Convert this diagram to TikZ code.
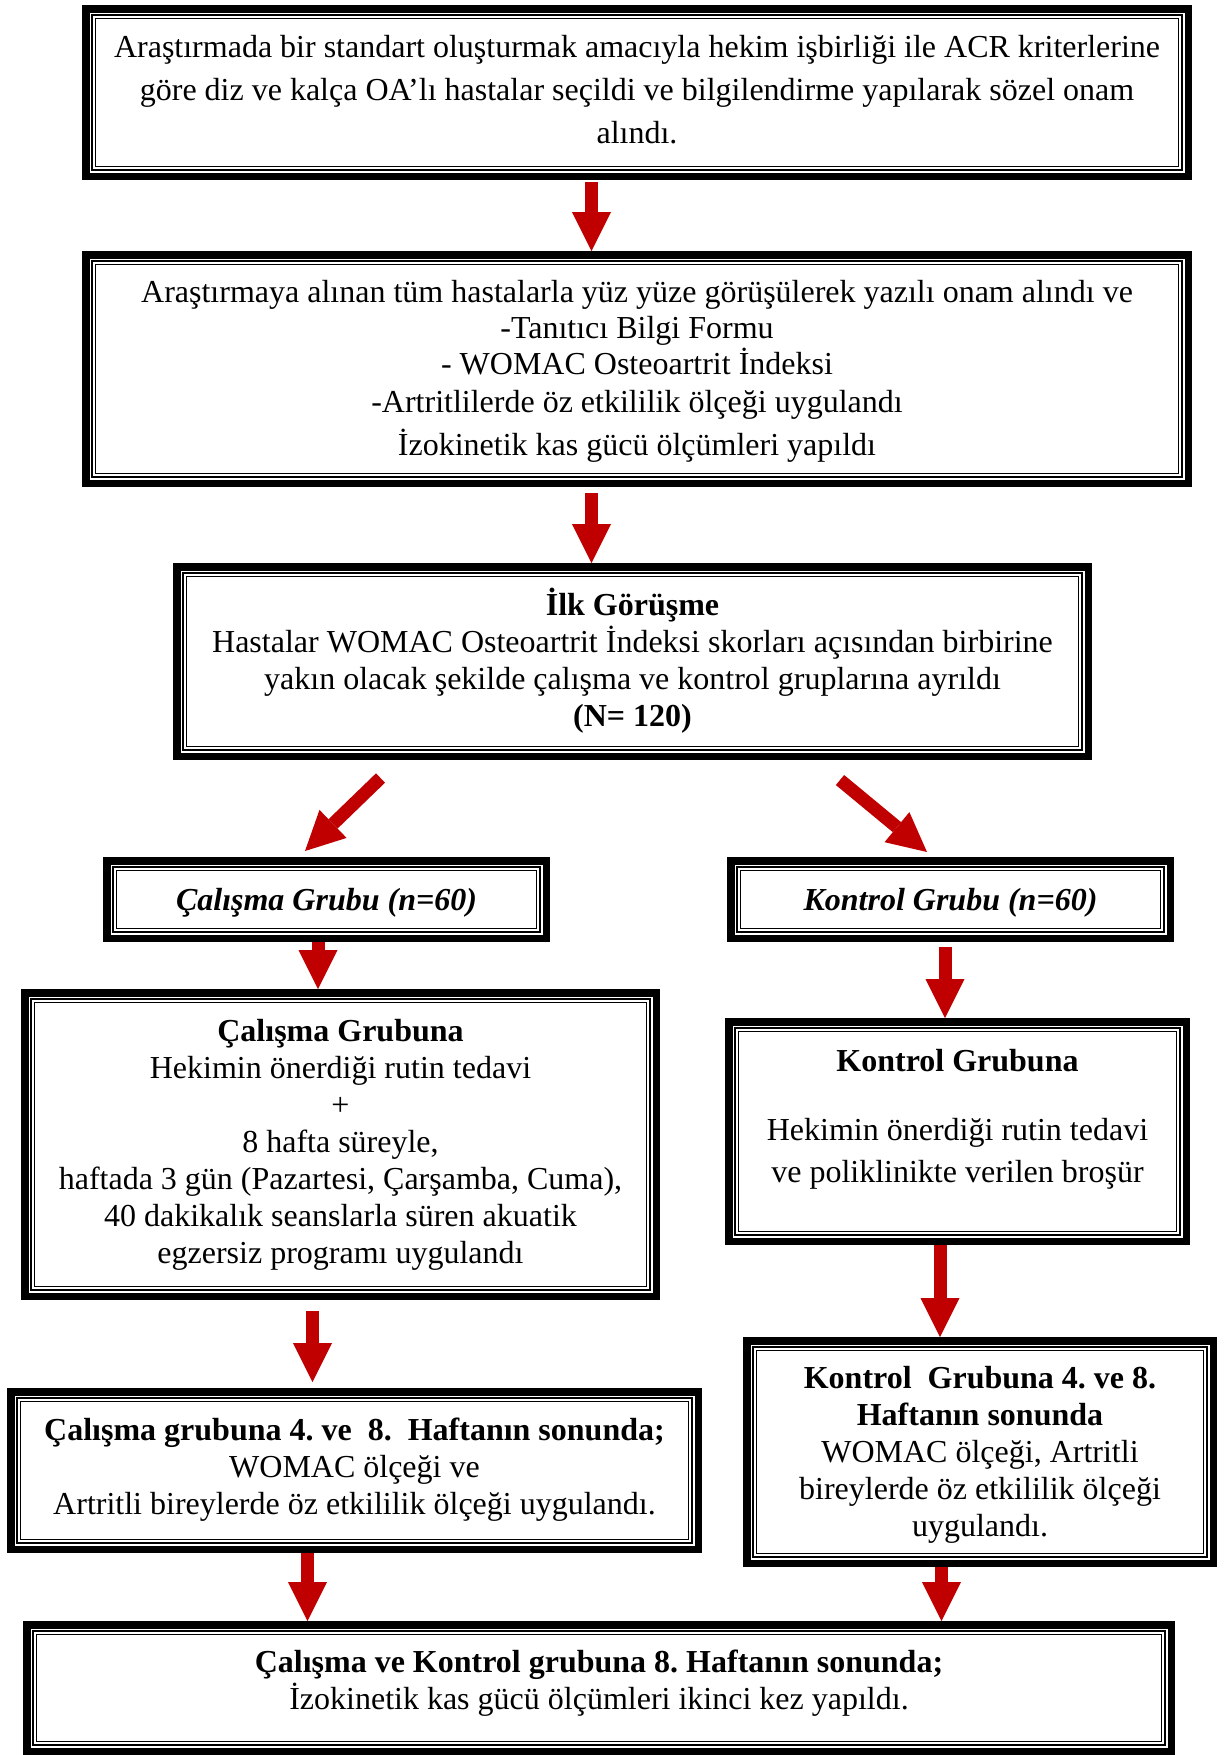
\documentclass[tikz,border=0pt]{standalone}
\usepackage{fontspec}
\setmainfont{Liberation Serif}
\usetikzlibrary{arrows.meta,calc}
\definecolor{ared}{RGB}{192,0,0}
\newlength\uu
\setlength\uu{0.375pt}
\frenchspacing
\tikzset{
  txt/.style={align=center, inner sep=0pt, font=\fontsize{12}{13.9}\selectfont\frenchspacing},
  boxarea/.style={inner sep=0pt, outer sep=0pt, draw=none},
  thickline/.style={line width=2.8125pt},
  thinline/.style={line width=0.49pt},
  blockarrow/.style={ared, line width=4.875pt, line cap=butt,
    -{Triangle[width=14.625pt, length=14.625pt, line width=0pt]}},
}
% #1 text options, #2 name, #3 x1, #4 y1, #5 x2, #6 y2, #7 text centre y, #8 text
\newcommand\triplebox[8][]{%
  \node[boxarea, minimum width={(#5-#3)*\uu}, minimum height={(#6-#4)*\uu}]
    (#2) at ({(#3+#5)/2},{(#4+#6)/2}) {};
  \draw[thickline] (#3+3.75,#4+3.75) rectangle (#5-3.75,#6-3.75);
  \draw[thinline] (#3+10,#4+10) rectangle (#5-10,#6-10);
  \draw[thinline] (#3+13.5,#4+13.5) rectangle (#5-13.5,#6-13.5);
  \node[txt,#1] (#2t) at ({(#3+#5)/2},#7) {#8};
}
\begin{document}
\begin{tikzpicture}[x=\uu, y=-\uu]
\useasboundingbox (0,0) rectangle (1227,1755);

\triplebox[font=\fontsize{12}{16.1}\selectfont\frenchspacing]{b1}{82}{5}{1192}{180}{90}{%
  Araştırmada bir standart oluşturmak amacıyla hekim işbirliği ile ACR kriterlerine\\
  göre diz ve kalça OA’lı hastalar seçildi ve bilgilendirme yapılarak sözel onam\\
  alındı.}

\triplebox[font=\fontsize{12}{13.5}\selectfont\frenchspacing]{b2}{82}{251}{1192}{487}{371}{%
  Araştırmaya alınan tüm hastalarla yüz yüze görüşülerek yazılı onam alındı ve\\
  -Tanıtıcı Bilgi Formu\\
  - WOMAC Osteoartrit İndeksi\\[0.8pt]
  -Artritlilerde öz etkililik ölçeği uygulandı\\[2.5pt]
  İzokinetik kas gücü ölçümleri yapıldı}

\triplebox{b3}{173}{563}{1092}{760}{661}{%
  \textbf{İlk Görüşme}\\
  Hastalar WOMAC Osteoartrit İndeksi skorları açısından birbirine\\
  yakın olacak şekilde çalışma ve kontrol gruplarına ayrıldı\\
  \textbf{(N= 120)}}

\triplebox{g1}{103}{857}{550}{942}{903}{\textbf{\textit{Çalışma Grubu (n=60)}}}
\triplebox{g2}{727}{857}{1174}{942}{903}{\textbf{\textit{Kontrol Grubu (n=60)}}}

\triplebox{c1}{21}{989}{660}{1300}{1145}{%
  \textbf{Çalışma Grubuna}\\
  Hekimin önerdiği rutin tedavi\\
  +\\
  8 hafta süreyle,\\
  haftada 3 gün (Pazartesi, Çarşamba, Cuma),\\
  40 dakikalık seanslarla süren akuatik\\
  egzersiz programı uygulandı}

\triplebox{k1}{725}{1018}{1190}{1245}{1119.5}{%
  \textbf{Kontrol Grubuna}\\[12pt]
  Hekimin önerdiği rutin tedavi\\[2pt]
  ve poliklinikte verilen broşür}

\triplebox{c4}{7}{1388}{702}{1553}{1470}{%
  \textbf{Çalışma grubuna 4. ve\ \ 8.\ \ Haftanın sonunda;}\\
  WOMAC ölçeği ve\\
  Artritli bireylerde öz etkililik ölçeği uygulandı.}

\triplebox{k4}{743}{1337}{1217}{1567}{1455}{%
  \textbf{Kontrol\ \ Grubuna 4. ve 8.}\\
  \textbf{Haftanın sonunda}\\
  WOMAC ölçeği, Artritli\\
  bireylerde öz etkililik ölçeği\\
  uygulandı.}

\triplebox{f}{23}{1621}{1175}{1755}{1683.5}{%
  \textbf{Çalışma ve Kontrol grubuna 8. Haftanın sonunda;}\\
  İzokinetik kas gücü ölçümleri ikinci kez yapıldı.}

% arrow axes
\coordinate (xa1) at (591.5,0);
\coordinate (xa2) at (591.5,0);
\coordinate (xa3) at (318,0);
\coordinate (xa4) at (945,0);
\coordinate (xa5) at (312.5,0);
\coordinate (xa6) at (940,0);
\coordinate (xa7) at (307.5,0);
\coordinate (xa8) at (941.5,0);

\draw[blockarrow, shorten <=0.75pt] (b1.south -| xa1) -- (b2.north -| xa1);
\draw[blockarrow, shorten <=2.25pt] (b2.south -| xa2) -- (b3.north -| xa2);
\draw[blockarrow] ([shift={(-252,18)}]b3.south) -- ([shift={(-21.5,-6)}]g1.north);
\draw[blockarrow] ([shift={(207.5,20)}]b3.south) -- ([shift={(-23.5,-5)}]g2.north);
\draw[blockarrow] (g1.south -| xa3) -- (c1.north -| xa3);
\draw[blockarrow, shorten <=1.875pt] (g2.south -| xa4) -- (k1.north -| xa4);
\draw[blockarrow, shorten <=4.125pt, shorten >=2.25pt] (c1.south -| xa5) -- (c4.north -| xa5);
\draw[blockarrow] (k1.south -| xa6) -- (k4.north -| xa6);
\draw[blockarrow] (c4.south -| xa7) -- (f.north -| xa7);
\draw[blockarrow] (k4.south -| xa8) -- (f.north -| xa8);
\end{tikzpicture}
\end{document}
